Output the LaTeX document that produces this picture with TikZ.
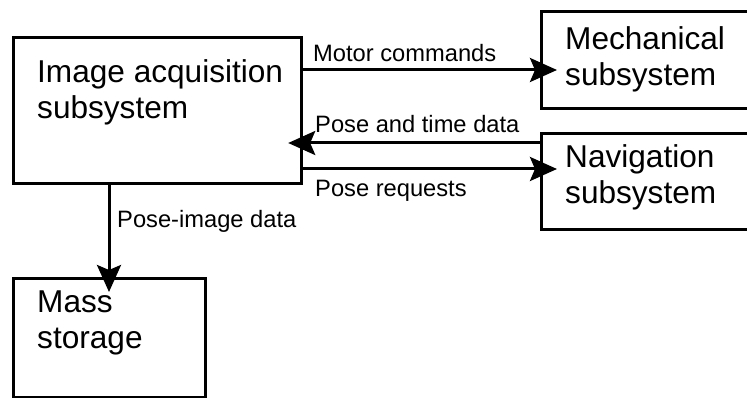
\documentclass[tikz,border=0pt]{standalone}
\usepackage{fontspec}
\setmainfont{Liberation Sans}
\usetikzlibrary{arrows.meta}

\tikzset{
  box/.style={draw=black, line width=3.2pt, rectangle, inner sep=0pt, anchor=north west},
  arr/.style={draw=black, line width=3pt, -{Stealth[length=27pt, width=24pt, inset=5pt]}},
  bigtxt/.style={anchor=base west, inner sep=0pt, font=\fontsize{31.6}{36}\selectfont},
  lbl/.style={anchor=base west, inner sep=0pt, font=\fontsize{23.7}{28}\selectfont},
}

\begin{document}
\begin{tikzpicture}[x=1pt, y=-1pt]
\useasboundingbox[fill=white] (0,0) rectangle (747,398);

% blocks (the two on the right run off the right edge)
\node[box, minimum width=288pt, minimum height=146pt] (acq)  at (12,36)  {};
\node[box, minimum width=230pt, minimum height=97pt]  (mech) at (540,10) {};
\node[box, minimum width=230pt, minimum height=96pt]  (nav)  at (540,132) {};
\node[box, minimum width=192pt, minimum height=119pt] (mass) at (12,277) {};

% block texts
\node[bigtxt] (acq1)  at (37,83)  {Image acquisition};
\node[bigtxt] (acq2)  at (37,119) {subsystem};
\node[bigtxt] (mech1) at (565,50) {Mechanical};
\node[bigtxt] (mech2) at (565,86) {subsystem};
\node[bigtxt] (nav1)  at (565,168) {Navigation};
\node[bigtxt] (nav2)  at (565,204) {subsystem};
\node[bigtxt] (mass1) at (37,312) {Mass};
\node[bigtxt] (mass2) at (37,348) {storage};

% heights / abscissa of the connectors
\coordinate (yMotor)  at (0,70);
\coordinate (yPoseT)  at (0,143);
\coordinate (yPoseR)  at (0,169);
\coordinate (xStore)  at (109,0);

% connectors (tips reach into the target block)
\draw[arr, shorten >=-17pt] (acq.east |- yMotor) -- (mech.west |- yMotor);
\draw[arr, shorten >=-15pt] (nav.west |- yPoseT) -- (acq.east |- yPoseT);
\draw[arr, shorten >=-17pt] (acq.east |- yPoseR) -- (nav.west |- yPoseR);
\draw[arr, shorten >=-15pt] (xStore |- acq.south) -- (xStore |- mass.north);

% connector labels
\node[lbl] (lMotor) at (313,62)  {Motor commands};
\node[lbl] (lPoseT) at (315,133) {Pose and time data};
\node[lbl] (lPoseR) at (315,197) {Pose requests};
\node[lbl] (lStore) at (117,228) {Pose-image data};
\end{tikzpicture}
\end{document}
